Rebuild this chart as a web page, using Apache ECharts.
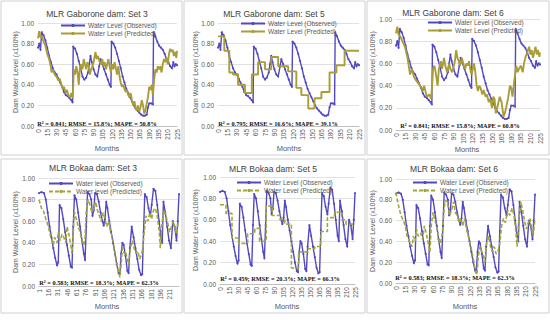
<!DOCTYPE html>
<html><head><meta charset="utf-8">
<script src="https://cdn.jsdelivr.net/npm/echarts@6/dist/echarts.min.js"></script>
<style>html,body{margin:0;padding:0;background:#fff}#c{width:550px;height:320px}</style>
</head><body><div id="c"></div>
<script>
// ---------- DATA (month, water level fraction) ----------
const gabObs = [[0,.76],[2,.80],[4,.74],[6,.91],[9,.88],[12,.83],[15,.76],[18,.68],[21,.62],[24,.56],[27,.52],[30,.50],[33,.46],[36,.42],[39,.38],[42,.33],[45,.30],[48,.29],[51,.27],[54,.25],[56,.23],[57,.77],[60,.75],[63,.70],[66,.63],[69,.56],[72,.48],[75,.45],[78,.47],[81,.52],[83,.60],[85,.68],[87,.62],[90,.55],[93,.50],[96,.48],[99,.58],[101,.65],[104,.60],[107,.55],[110,.50],[113,.45],[116,.40],[118,.38],[119,.82],[122,.80],[125,.76],[128,.70],[131,.63],[134,.56],[137,.48],[140,.42],[143,.36],[146,.32],[149,.28],[152,.24],[155,.20],[158,.17],[161,.15],[164,.13],[167,.11],[170,.10],[173,.10],[176,.11],[178,.18],[180,.22],[183,.22],[186,.21],[187,.91],[190,.87],[193,.82],[196,.78],[199,.76],[202,.74],[205,.70],[208,.65],[211,.62],[214,.58],[217,.56],[219,.62],[221,.58],[223,.60],[225,.59]];
const gabPred3 = [[0,.85],[2,.92],[4,.86],[6,.88],[9,.82],[12,.78],[15,.70],[18,.65],[20,.60],[22,.52],[24,.55],[27,.50],[30,.48],[33,.44],[35,.46],[38,.40],[40,.36],[42,.38],[45,.32],[47,.35],[49,.30],[52,.28],[54,.32],[56,.27],[57,.40],[58,.55],[60,.50],[62,.58],[64,.52],[66,.40],[68,.58],[70,.60],[72,.55],[74,.65],[76,.60],[78,.55],[80,.62],[82,.58],[84,.50],[86,.55],[88,.58],[90,.62],[93,.72],[95,.65],[97,.68],[100,.62],[102,.60],[104,.65],[106,.58],[108,.62],[110,.55],[112,.60],[114,.65],[116,.58],[118,.52],[120,.60],[122,.55],[124,.62],[126,.56],[128,.50],[130,.58],[132,.48],[134,.42],[136,.38],[138,.40],[140,.36],[142,.33],[144,.35],[146,.30],[148,.28],[150,.32],[152,.25],[154,.20],[156,.24],[158,.18],[160,.15],[162,.20],[164,.14],[166,.18],[168,.25],[170,.20],[172,.12],[174,.15],[176,.22],[178,.28],[180,.38],[182,.35],[184,.40],[186,.30],[188,.45],[190,.55],[192,.52],[194,.58],[196,.55],[198,.58],[200,.52],[202,.60],[204,.65],[206,.62],[208,.66],[210,.60],[212,.70],[214,.75],[216,.72],[218,.74],[220,.68],[222,.72],[224,.66],[225,.73]];
const gabPred5 = [[0,.87],[10,.73],[18,.52],[24,.50],[32,.40],[43,.32],[54,.50],[64,.62],[75,.55],[85,.67],[96,.58],[112,.53],[125,.37],[133,.30],[144,.17],[154,.27],[165,.33],[178,.52],[189,.59],[202,.73],[225,.73]];
const gabPred6 = [[0,.87],[2,.93],[4,.86],[7,.84],[10,.80],[14,.75],[18,.65],[22,.50],[25,.55],[28,.48],[31,.45],[35,.42],[40,.38],[42,.35],[44,.40],[48,.30],[52,.32],[55,.28],[58,.55],[60,.58],[62,.52],[65,.40],[67,.55],[70,.62],[72,.55],[75,.65],[77,.58],[80,.52],[83,.60],[85,.55],[88,.52],[92,.62],[94,.72],[96,.65],[98,.62],[100,.58],[103,.65],[105,.60],[108,.55],[110,.60],[112,.58],[114,.62],[116,.55],[118,.50],[120,.55],[122,.60],[124,.52],[126,.40],[128,.35],[130,.40],[132,.38],[135,.32],[137,.36],[140,.30],[142,.32],[145,.25],[147,.28],[150,.20],[152,.30],[154,.28],[156,.15],[159,.22],[162,.30],[165,.25],[168,.12],[170,.15],[172,.20],[175,.28],[178,.40],[180,.38],[182,.30],[185,.45],[188,.58],[190,.52],[192,.55],[195,.58],[198,.52],[200,.60],[202,.65],[205,.70],[208,.75],[210,.68],[212,.72],[214,.65],[216,.70],[218,.75],[220,.68],[222,.72],[224,.66],[225,.70]];

const bokObs = [[0,.86],[4,.87],[8,.86],[11,.80],[14,.68],[17,.55],[20,.45],[23,.35],[26,.26],[29,.19],[31,.22],[33,.75],[36,.72],[39,.62],[42,.50],[45,.38],[48,.28],[51,.18],[53,.17],[55,.55],[57,.84],[60,.80],[63,.68],[66,.55],[69,.42],[72,.30],[74,.24],[76,.55],[78,.87],[81,.85],[84,.80],[86,.65],[88,.70],[90,.86],[93,.85],[96,.78],[99,.68],[102,.60],[104,.56],[106,.62],[108,.78],[110,.72],[113,.60],[116,.50],[119,.40],[122,.30],[125,.20],[128,.12],[130,.11],[132,.30],[134,.40],[136,.38],[139,.28],[142,.14],[144,.12],[146,.35],[149,.55],[152,.45],[155,.35],[158,.25],[161,.15],[164,.10],[166,.11],[168,.50],[170,.85],[173,.82],[176,.72],[179,.65],[181,.75],[184,.90],[187,.88],[190,.75],[193,.60],[196,.45],[198,.40],[200,.78],[203,.68],[206,.55],[209,.42],[212,.35],[215,.60],[218,.55],[221,.42],[223,.60],[225,.85]];
const bokPred3 = [[0,.80],[4,.72],[7,.70],[11,.62],[15,.55],[19,.45],[23,.38],[25,.45],[29,.40],[31,.50],[34,.42],[37,.48],[40,.45],[43,.40],[45,.55],[48,.48],[51,.38],[53,.30],[55,.50],[57,.68],[60,.62],[63,.55],[66,.50],[69,.42],[72,.38],[74,.45],[76,.70],[79,.80],[82,.75],[85,.68],[88,.72],[91,.78],[94,.70],[97,.65],[100,.60],[103,.68],[106,.62],[109,.55],[112,.60],[115,.50],[118,.45],[121,.35],[124,.25],[127,.15],[130,.08],[132,.20],[134,.35],[137,.30],[139,.32],[142,.25],[144,.20],[147,.35],[150,.42],[153,.35],[156,.30],[159,.32],[162,.25],[165,.30],[167,.35],[169,.50],[172,.65],[175,.60],[178,.68],[181,.62],[184,.70],[187,.72],[190,.65],[193,.52],[195,.35],[198,.60],[201,.70],[204,.65],[207,.58],[210,.50],[213,.55],[216,.60],[219,.52],[221,.48],[224,.60]];
const bokPred5 = [[0,.74],[10,.66],[20,.43],[31,.38],[46,.47],[58,.52],[66,.40],[77,.73],[87,.64],[100,.60],[108,.56],[119,.15],[131,.30],[147,.33],[158,.35],[168,.49],[179,.62],[191,.67],[203,.60],[210,.56],[225,.56]];
const bokPred6 = [[0,.87],[2,.80],[5,.72],[8,.65],[12,.60],[15,.55],[18,.45],[22,.40],[26,.35],[28,.45],[31,.40],[33,.52],[36,.45],[40,.48],[43,.42],[46,.55],[50,.45],[53,.35],[55,.30],[57,.55],[60,.68],[63,.60],[66,.55],[69,.42],[72,.38],[75,.48],[78,.72],[80,.80],[84,.75],[87,.65],[90,.70],[93,.78],[96,.68],[99,.65],[102,.58],[105,.62],[108,.55],[111,.62],[114,.52],[117,.45],[120,.38],[123,.30],[126,.20],[129,.10],[131,.08],[133,.25],[136,.35],[139,.30],[142,.25],[144,.20],[147,.40],[150,.45],[153,.35],[156,.30],[159,.35],[162,.28],[165,.30],[168,.38],[171,.55],[174,.62],[177,.58],[181,.70],[184,.65],[188,.72],[191,.65],[194,.50],[196,.35],[199,.62],[202,.78],[205,.70],[208,.60],[211,.52],[214,.58],[217,.62],[220,.50],[222,.45],[225,.62]];

const titles = ['MLR Gaborone dam: Set 3','MLR Gaborone dam: Set 5','MLR Gaborone dam: Set 6','MLR Bokaa dam: Set 3','MLR Bokaa dam: Set 5','MLR Bokaa dam: Set 6'];
const stats = ['R\u00B2 = 0.841; RMSE = 15.8%; MAPE = 50.8%','R\u00B2 = 0.795; RMSE = 16.6%; MAPE = 39.1%','R\u00B2 = 0.841; RMSE = 15.8%; MAPE = 60.8%','R\u00B2 = 0.583; RMSE = 18.3%; MAPE = 62.3%','R\u00B2 = 0.459; RMSE = 20.3%; MAPE = 66.3%','R\u00B2 = 0.583; RMSE = 18.3%; MAPE = 62.3%'];
const xTitle = 'Months';
const yTitle = 'Dam Water Level (x100%)';
const obsNames = ['Water Level (Observed)','Water Level (Observed)','Water Level (Observed)','Water level (Observed)','Water Level (Observed) ','Water Level (Observed) '];
const predNames = ['Water Level (Predicted)','Water Level (Predicted)','Water Level (Predicted)','Water level (Predicted)','Water Level (Predicted) ','Water Level (Predicted) '];
const obsData = [gabObs,gabObs,gabObs,bokObs,bokObs,bokObs];
const predData = [gabPred3,gabPred5,gabPred6,bokPred3,bokPred5,bokPred6];

// ---------- LAYOUT ----------
const L = [
 {grid:{left:38,right:373,top:23,bottom:194}, title:[97,9], stat:[97,123], leg:[60,22], frame:[1,1,181,154], xName:[107,148], yName:[15,72], one:false, step:false, dash:false},
 {grid:{left:218,right:191,top:23,bottom:194}, title:[274,9], stat:[278,123], leg:[240,20], frame:[184,1,181,154], xName:[289,148], yName:[195,72], one:false, step:true, dash:false},
 {grid:{left:396,right:10,top:19,bottom:190}, title:[453,8], stat:[460,125], leg:[427,19], frame:[367,1,182,154], xName:[467,149], yName:[372,72], one:false, step:false, dash:false},
 {grid:{left:39,right:371,top:178,bottom:34}, title:[93,163], stat:[99,282], leg:[48,180], frame:[1,159,181,154], xName:[107,306], yName:[15,232], one:true, step:false, dash:true},
 {grid:{left:220,right:195,top:177,bottom:36}, title:[273,164], stat:[280,278], leg:[236,179], frame:[184,159,181,154], xName:[287,306], yName:[195,230], one:false, step:true, dash:true},
 {grid:{left:396,right:15,top:179,bottom:37}, title:[454,164], stat:[455,277], leg:[412,179], frame:[367,159,182,154], xName:[465,306], yName:[372,231], one:false, step:false, dash:true}
];

const OBS = '#5249c2', PRED_G = '#aa9d38', PRED_B = '#a3a63a';
const SANS = 'Liberation Sans';
const AX = '#595959';
const option = {animation:false, backgroundColor:'#fff', grid:[], xAxis:[], yAxis:[], series:[], legend:[], title:[], graphic:[]};

L.forEach((p,i)=>{
  option.grid.push(p.grid);
  option.xAxis.push({type:'value', gridIndex:i, min:0, max:225, interval:15,
    axisLine:{lineStyle:{color:'#bfbfbf'}}, axisTick:{show:false}, splitLine:{show:false},
    axisLabel:{rotate:90, fontFamily:SANS, fontSize:6.5, color:AX, margin:3,
      formatter: p.one ? (v=> v>=220 ? '' : String(v+1)) : (v=>String(v))}});
  option.yAxis.push({type:'value', gridIndex:i, min:0, max:1, interval:0.2,
    axisLine:{show:false}, axisTick:{show:false}, splitLine:{lineStyle:{color:'#d9d9d9',width:0.8}},
    axisLabel:{fontFamily:SANS, fontSize:6.5, color:AX, margin:4, formatter:v=>v.toFixed(2)}});
  option.series.push({name:obsNames[i], type:'line', xAxisIndex:i, yAxisIndex:i, data:obsData[i],
    symbol:'circle', symbolSize:2, showSymbol:true, itemStyle:{color:OBS}, lineStyle:{color:OBS,width:1.4}, z:2});
  option.series.push({name:predNames[i], type:'line', xAxisIndex:i, yAxisIndex:i, data:predData[i],
    symbol:'none', step: p.step ? 'end' : false,
    itemStyle:{color: p.dash?PRED_B:PRED_G},
    lineStyle:{color: p.dash?PRED_B:PRED_G, width: p.dash?1.6:1.9, type: p.dash?[4,2]:'solid'}, z:3});
  option.legend.push({data:[obsNames[i],predNames[i]], orient:'vertical', left:p.leg[0], top:p.leg[1],
    itemGap:1, itemWidth:24, itemHeight:4, padding:0, selectedMode:false,
    textStyle:{fontFamily:SANS, fontSize:6.5, color:AX, padding:[0,0,0,-2]}});
  option.title.push({text:titles[i], left:p.title[0], top:p.title[1], textAlign:'center', padding:0,
    textStyle:{fontFamily:SANS, fontSize:8.5, fontWeight:'normal', color:'#404040'}});
  option.graphic.push({type:'rect', shape:{x:p.frame[0],y:p.frame[1],width:p.frame[2],height:p.frame[3]},
    style:{fill:'none', stroke:'#d0d0d0', lineWidth:1}, silent:true, z:-1});
  option.graphic.push({type:'text', x:p.stat[0], y:p.stat[1], silent:true, z:10,
    style:{text:stats[i], fill:'#111', font:'bold 6.3px "Liberation Serif"', textAlign:'center', textVerticalAlign:'middle'}});
  option.graphic.push({type:'text', x:p.xName[0], y:p.xName[1], silent:true, z:10,
    style:{text:xTitle, fill:AX, font:'7.5px "Liberation Sans"', textAlign:'center', textVerticalAlign:'middle'}});
  option.graphic.push({type:'text', x:p.yName[0], y:p.yName[1], rotation:Math.PI/2, silent:true, z:10,
    style:{text:yTitle, fill:AX, font:'7px "Liberation Sans"', textAlign:'center', textVerticalAlign:'middle'}});
});

const chart = echarts.init(document.getElementById('c'), null, {renderer:'svg'});
chart.setOption(option);
</script></body></html>
